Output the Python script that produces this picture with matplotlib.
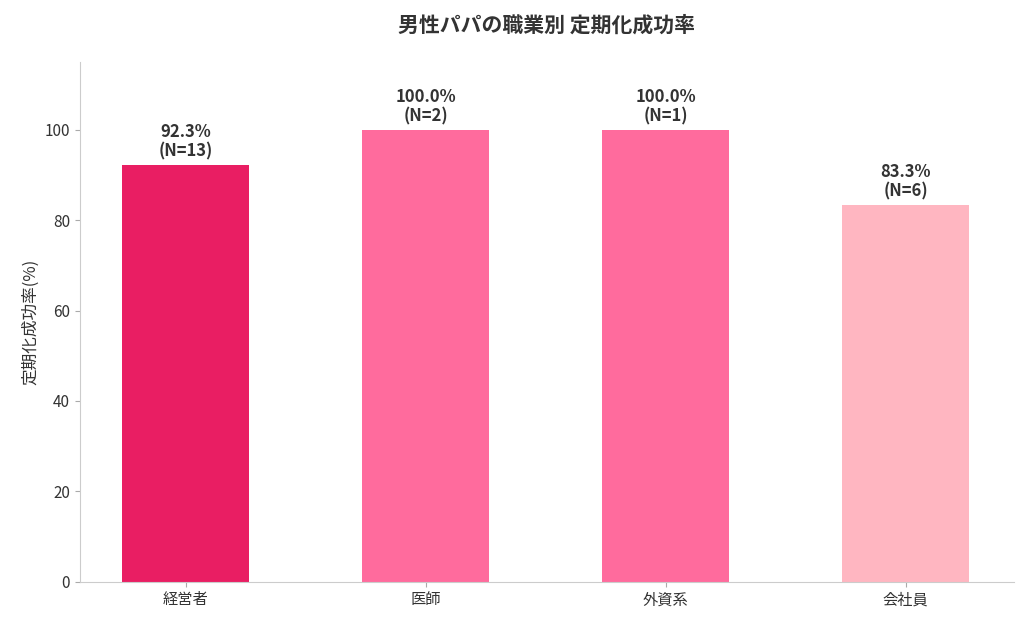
import matplotlib
matplotlib.use("Agg")
import matplotlib.pyplot as plt

plt.rcParams['font.family'] = ['Noto Sans CJK JP', 'DejaVu Sans']

categories = ['経営者', '医師', '外資系', '会社員']
rates = [92.3, 100.0, 100.0, 83.3]
counts = [13, 2, 1, 6]
colors = ['#E91E63', '#FF6B9D', '#FF6B9D', '#FFB6C1']

fig, ax = plt.subplots(figsize=(10.24, 6.22), dpi=100)
fig.subplots_adjust(left=0.078, right=0.99, top=0.9, bottom=0.065)
x = range(len(categories))
ax.bar(x, rates, width=0.53, color=colors)
for i, (r, n) in enumerate(zip(rates, counts)):
    ax.text(i, r + 1, f'{r:.1f}%\n(N={n})', ha='center', va='bottom',
            fontsize=12, fontweight='bold', color='#333333', linespacing=1.1)
ax.set_xticks(list(x))
ax.set_xticklabels(categories, fontsize=11, color='#333333')
ax.set_xlim(-0.44, 3.45)
ax.set_ylim(0, 115)
ax.set_yticks([0, 20, 40, 60, 80, 100])
ax.tick_params(axis='y', labelsize=11, colors='#333333')
ax.tick_params(axis='both', color='#aaaaaa')
ax.set_ylabel('定期化成功率(%)', fontsize=12, color='#333333')
ax.set_title('男性パパの職業別 定期化成功率', fontsize=15, fontweight='bold',
             color='#333333', pad=22)
for s in ['top', 'right']:
    ax.spines[s].set_visible(False)
for s in ['left', 'bottom']:
    ax.spines[s].set_color('#cccccc')
fig.savefig('out.png')
